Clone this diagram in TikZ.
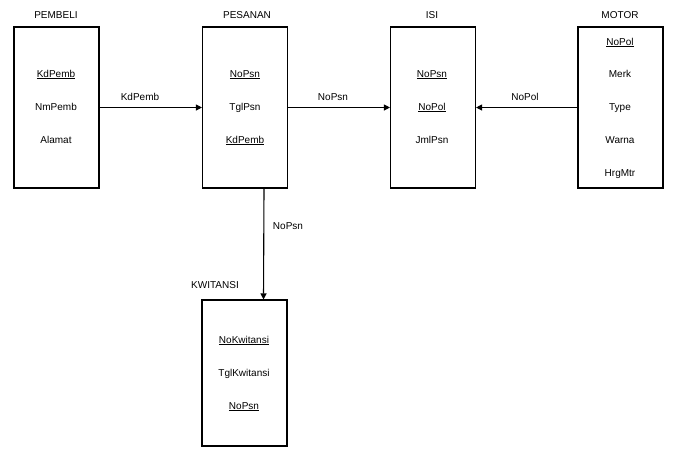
\documentclass[tikz,border=0pt]{standalone}
\usepackage{fontspec}
\setmainfont{Liberation Sans}
\usetikzlibrary{arrows.meta,positioning}

\begin{document}
\begin{tikzpicture}[x=1pt,y=-1pt,
  tabel/.style={draw, line width=1.1pt, minimum width=85pt, inner sep=0pt},
  teks/.style={font=\fontsize{10}{12}\selectfont, inner sep=0pt, text height=7pt, text depth=3pt},
  panah/.style={-{Triangle[length=6pt,width=6pt]}, line width=1.1pt}]

\useasboundingbox (0,0) rectangle (673,448);

% tabel
\node[tabel, minimum height=161pt] (pembeli) at (56.5,107.5) {};
\node[tabel, minimum height=161pt] (pesanan) at (245,107.5) {};
\node[tabel, minimum height=161pt] (isi) at (433,107.5) {};
\node[tabel, minimum height=161pt] (motor) at (620.5,107.5) {};
\node[tabel, minimum height=146pt] (kwitansi) at (244.5,373) {};

% judul
\node[teks] (tpembeli) at (56,16) {PEMBELI};
\node[teks] (tpesanan) at (247,16) {PESANAN};
\node[teks] (tisi) at (432,16) {ISI};
\node[teks] (tmotor) at (620,16) {MOTOR};
\node[teks] (tkwitansi) at (215,286) {KWITANSI};

% atribut
\node[teks] (kdpemb) at (56,75) {\underline{KdPemb}};
\node[teks] (nmpemb) at (56,108) {NmPemb};
\node[teks] (alamat) at (56,141) {Alamat};

\node[teks] (nopsn) at (245,75) {\underline{NoPsn}};
\node[teks] (tglpsn) at (245,108) {TglPsn};
\node[teks] (kdpembb) at (245,141) {\underline{KdPemb}};

\node[teks] (nopsni) at (432,75) {\underline{NoPsn}};
\node[teks] (nopoli) at (432,108) {\underline{NoPol}};
\node[teks] (jmlpsn) at (432,141) {JmlPsn};

\node[teks] (nopol) at (620,43) {\underline{NoPol}};
\node[teks] (merk) at (620,75) {Merk};
\node[teks] (type) at (620,108) {Type};
\node[teks] (warna) at (620,141) {Warna};
\node[teks] (hrgmtr) at (620,174) {HrgMtr};

\node[teks] (nokw) at (244,341) {\underline{NoKwitansi}};
\node[teks] (tglkw) at (244,374) {TglKwitansi};
\node[teks] (nopsnk) at (244,407) {\underline{NoPsn}};

% relasi
\draw[panah] (pembeli.east) -- (pesanan.west);
\draw[panah] (pesanan.east) -- (isi.west);
\draw[panah] (motor.west) -- (isi.east);
\draw[panah] ([xshift=19pt]pesanan.south) -- ([xshift=19pt]kwitansi.north);

\node[teks] (lkdpemb) at (140,98) {KdPemb};
\node[teks] (lnopsn) at (333,98) {NoPsn};
\node[teks] (lnopol) at (525,98) {NoPol};
\node[teks] (lnopsnk) at (288,227) {NoPsn};

\end{tikzpicture}
\end{document}
